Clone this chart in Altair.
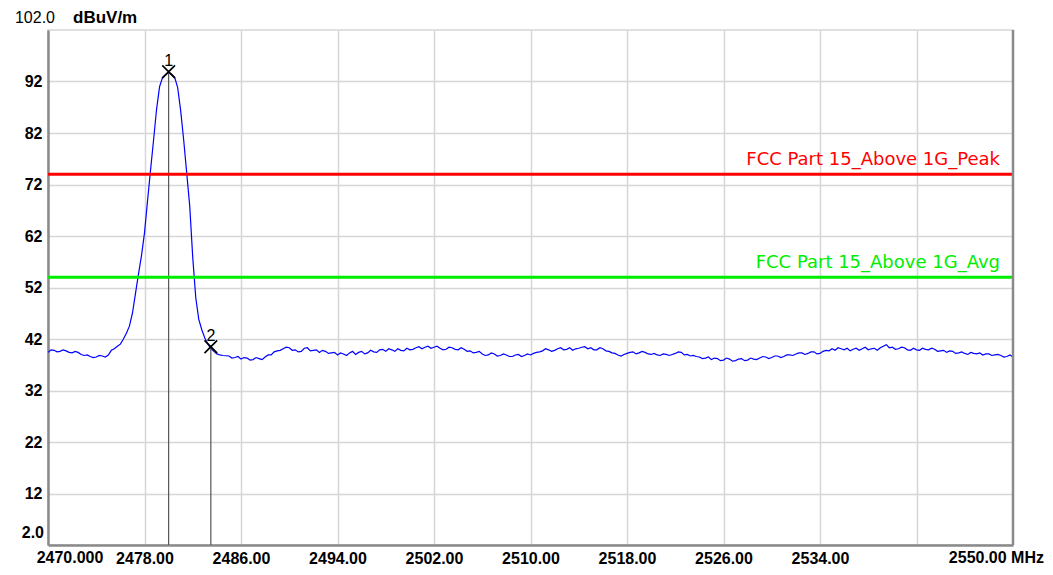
import altair as alt
import pandas as pd

# ---- sweep trace (MHz, dBuV/m) ----
freq_left = [2470.0, 2470.5, 2471.0, 2471.5, 2472.0, 2472.5, 2473.0, 2473.5, 2474.0, 2474.5, 2475.0]
level_left = [39.4, 39.8, 39.6, 39.7, 39.3, 39.4, 38.8, 38.6, 38.5, 38.7, 38.9]
freq_left_mid = [2470.25, 2470.75, 2471.25, 2471.75, 2472.25, 2472.75, 2473.25, 2473.75,
                 2474.25, 2474.75]
level_left_mid = [39.9, 39.5, 39.9, 39.4, 39.6, 39.0, 38.9, 38.4, 38.8, 38.5]

freq_peak = [2475.25, 2475.5, 2475.75,
             2476.0, 2476.25, 2476.5, 2476.75,
             2477.0, 2477.25, 2477.5, 2477.75,
             2478.0, 2478.25, 2478.5, 2478.75,
             2479.0, 2479.25, 2479.5, 2479.75,
             2480.0, 2480.25, 2480.5, 2480.75,
             2481.0, 2481.25, 2481.5, 2481.75,
             2482.0, 2482.25, 2482.5, 2482.75,
             2483.0, 2483.25, 2483.5, 2483.75,
             2484.0, 2484.25, 2484.5]
level_peak = [39.8, 40.1, 40.6,
              41.0, 42.0, 43.1, 44.5,
              47.0, 50.8, 54.6, 58.2,
              62.6, 68.8, 74.8, 80.6,
              86.6, 91.0, 92.8, 93.3,
              93.8, 93.4, 92.8, 90.8,
              86.3, 80.6, 74.2, 67.8,
              57.8, 50.0, 45.8, 43.8,
              42.2, 41.0, 40.2, 39.6,
              39.1, 38.9, 38.8]

freq_right = [
    2485.0, 2485.5, 2486.0, 2486.5, 2487.0, 2487.5, 2488.0, 2488.5, 2489.0, 2489.5,
    2490.0, 2490.5, 2491.0, 2491.5, 2492.0, 2492.5, 2493.0, 2493.5, 2494.0, 2494.5,
    2495.0, 2495.5, 2496.0, 2496.5, 2497.0, 2497.5, 2498.0, 2498.5, 2499.0, 2499.5,
    2500.0, 2500.5, 2501.0, 2501.5, 2502.0, 2502.5, 2503.0, 2503.5, 2504.0, 2504.5,
    2505.0, 2505.5, 2506.0, 2506.5, 2507.0, 2507.5, 2508.0, 2508.5, 2509.0, 2509.5,
    2510.0, 2510.5, 2511.0, 2511.5, 2512.0, 2512.5, 2513.0, 2513.5, 2514.0, 2514.5,
    2515.0, 2515.5, 2516.0, 2516.5, 2517.0, 2517.5, 2518.0, 2518.5, 2519.0, 2519.5,
    2520.0, 2520.5, 2521.0, 2521.5, 2522.0, 2522.5, 2523.0, 2523.5, 2524.0, 2524.5,
    2525.0, 2525.5, 2526.0, 2526.5, 2527.0, 2527.5, 2528.0, 2528.5, 2529.0, 2529.5,
    2530.0, 2530.5, 2531.0, 2531.5, 2532.0, 2532.5, 2533.0, 2533.5, 2534.0, 2534.5,
    2535.0, 2535.5, 2536.0, 2536.5, 2537.0, 2537.5, 2538.0, 2538.5, 2539.0, 2539.5,
    2540.0, 2540.5, 2541.0, 2541.5, 2542.0, 2542.5, 2543.0, 2543.5, 2544.0, 2544.5,
    2545.0, 2545.5, 2546.0, 2546.5, 2547.0, 2547.5, 2548.0, 2548.5, 2549.0, 2549.5,
    2550.0]
level_right = [
    38.7, 38.4, 38.1, 38.3, 38.0, 38.2, 38.5, 38.9, 39.7, 40.1,
    40.3, 39.9, 39.6, 40.3, 39.8, 39.4, 39.6, 39.3, 38.9, 39.1,
    39.3, 39.0, 39.6, 39.3, 39.5, 39.9, 39.6, 39.9, 40.1, 39.7,
    39.9, 40.3, 40.1, 40.6, 40.4, 40.2, 40.0, 40.3, 39.9, 40.0,
    39.7, 39.4, 39.1, 38.9, 39.1, 38.8, 38.9, 38.6, 39.0, 38.8,
    38.9, 39.4, 39.7, 39.9, 39.8, 40.3, 40.0, 39.8, 40.2, 40.5,
    40.3, 39.9, 40.1, 39.6, 39.2, 38.7, 39.2, 39.5, 39.3, 39.4,
    39.0, 38.9, 39.1, 38.8, 39.2, 39.4, 39.0, 38.8, 38.5, 38.3,
    38.0, 38.2, 37.9, 38.1, 37.8, 38.2, 37.9, 38.1, 38.3, 38.5,
    38.4, 38.7, 38.6, 38.9, 39.1, 39.3, 39.2, 39.5, 39.2, 39.8,
    40.1, 40.3, 39.9, 39.7, 40.2, 40.1, 39.9, 40.2, 40.3, 40.9,
    40.4, 40.1, 40.3, 39.8, 39.9, 40.2, 39.9, 40.0, 39.7, 39.4,
    39.6, 39.3, 39.2, 39.4, 39.1, 38.9, 39.1, 38.9, 38.8, 38.6,
    38.5]
freq_right_mid = [
    2485.25, 2485.75, 2486.25, 2486.75, 2487.25, 2487.75, 2488.25, 2488.75, 2489.25, 2489.75,
    2490.25, 2490.75, 2491.25, 2491.75, 2492.25, 2492.75, 2493.25, 2493.75, 2494.25, 2494.75,
    2495.25, 2495.75, 2496.25, 2496.75, 2497.25, 2497.75, 2498.25, 2498.75, 2499.25, 2499.75,
    2500.25, 2500.75, 2501.25, 2501.75, 2502.25, 2502.75, 2503.25, 2503.75, 2504.25, 2504.75,
    2505.25, 2505.75, 2506.25, 2506.75, 2507.25, 2507.75, 2508.25, 2508.75, 2509.25, 2509.75,
    2510.25, 2510.75, 2511.25, 2511.75, 2512.25, 2512.75, 2513.25, 2513.75, 2514.25, 2514.75,
    2515.25, 2515.75, 2516.25, 2516.75, 2517.25, 2517.75, 2518.25, 2518.75, 2519.25, 2519.75,
    2520.25, 2520.75, 2521.25, 2521.75, 2522.25, 2522.75, 2523.25, 2523.75, 2524.25, 2524.75,
    2525.25, 2525.75, 2526.25, 2526.75, 2527.25, 2527.75, 2528.25, 2528.75, 2529.25, 2529.75,
    2530.25, 2530.75, 2531.25, 2531.75, 2532.25, 2532.75, 2533.25, 2533.75, 2534.25, 2534.75,
    2535.25, 2535.75, 2536.25, 2536.75, 2537.25, 2537.75, 2538.25, 2538.75, 2539.25, 2539.75,
    2540.25, 2540.75, 2541.25, 2541.75, 2542.25, 2542.75, 2543.25, 2543.75, 2544.25, 2544.75,
    2545.25, 2545.75, 2546.25, 2546.75, 2547.25, 2547.75, 2548.25, 2548.75, 2549.25, 2549.75]
level_right_mid = [
    38.3, 38.6, 38.4, 37.9, 38.4, 38.0, 38.9, 39.5, 39.8, 40.4,
    39.8, 39.5, 40.2, 39.7, 39.9, 39.8, 39.2, 39.4, 39.3, 38.8,
    39.6, 39.4, 39.1, 39.8, 39.4, 40.0, 40.1, 39.6, 39.8, 40.2,
    40.0, 40.5, 40.4, 40.2, 40.6, 39.9, 40.4, 40.0, 40.3, 39.6,
    39.3, 39.6, 38.8, 39.3, 38.7, 39.1, 38.6, 38.9, 38.6, 39.1,
    39.2, 39.5, 40.1, 39.6, 40.1, 39.9, 40.3, 40.1, 40.4, 40.1,
    39.9, 40.3, 39.7, 39.3, 38.9, 39.0, 39.4, 39.1, 39.6, 39.1,
    39.2, 38.8, 39.0, 39.0, 39.5, 38.9, 38.7, 38.6, 38.2, 38.5,
    38.3, 37.8, 38.3, 37.7, 38.1, 37.8, 38.3, 38.0, 38.6, 38.2,
    38.7, 38.4, 38.9, 38.8, 39.3, 39.0, 39.5, 39.1, 39.6, 39.7,
    39.8, 40.1, 40.2, 40.0, 39.8, 40.4, 40.1, 39.8, 40.6, 40.3,
    40.0, 40.4, 39.9, 40.2, 39.8, 40.0, 40.2, 39.6, 39.8, 39.7,
    39.2, 39.5, 39.0, 39.2, 39.3, 39.1, 38.8, 39.0, 38.5, 38.9]

# ---- limit lines ----
limit_names = ["FCC Part 15_Above 1G_Peak", "FCC Part 15_Above 1G_Avg"]
limit_levels = [74, 54]
limit_colors = ["#ff0000", "#00ee00"]

# ---- markers ----
marker_ids = ["1", "2"]
marker_freq = [2480.0, 2483.5]
marker_level = [93.9, 40.5]

# ---- axis ticks / ranges ----
x_ticks = [2478, 2486, 2494, 2502, 2510, 2518, 2526, 2534, 2542]
y_ticks = [12, 22, 32, 42, 52, 62, 72, 82, 92]
x_min, x_max = 2470, 2550
y_min, y_max = 2, 102

FONT = "Liberation Sans"

trace = pd.DataFrame({
    "freq": freq_left + freq_left_mid + freq_peak + freq_right + freq_right_mid,
    "level": level_left + level_left_mid + level_peak + level_right + level_right_mid,
}).sort_values("freq")
limits = pd.DataFrame({"name": limit_names, "level": limit_levels, "color": limit_colors,
                       "xend": [x_max] * len(limit_names)})
markers = pd.DataFrame({"id": marker_ids, "freq": marker_freq, "level": marker_level,
                        "floor": [y_min] * len(marker_ids)})
border = pd.DataFrame({"x": [x_max], "y": [y_min], "y2": [y_max]})

xscale = alt.Scale(domain=[x_min, x_max], nice=False, zero=False)
yscale = alt.Scale(domain=[y_min, y_max], nice=False, zero=False)

x_axis = alt.Axis(values=x_ticks, title=None, grid=True, gridColor="#d6d6d6", gridWidth=1.5,
                  ticks=False, domainColor="#8a8a8a", domainWidth=2.5,
                  labelExpr="datum.value == 2542 ? '' : format(datum.value, '.2f')",
                  labelFont=FONT, labelFontSize=16, labelFontWeight="bold", labelColor="#000",
                  labelBaseline="alphabetic", labelPadding=18,
                  labelOverlap=False, labelBound=False, labelFlush=False)
y_axis = alt.Axis(values=y_ticks, title=None, grid=True, gridColor="#d6d6d6", gridWidth=1.5,
                  ticks=False, domainColor="#8a8a8a", domainWidth=2.5, format="d",
                  labelFont=FONT, labelFontSize=16, labelFontWeight="bold", labelColor="#000",
                  labelPadding=6, labelOverlap=False, labelBound=False, labelFlush=False)

line = alt.Chart(trace).mark_line(color="#0000ff", strokeWidth=1.2).encode(
    x=alt.X("freq:Q", scale=xscale, axis=x_axis),
    y=alt.Y("level:Q", scale=yscale, axis=y_axis),
)

marker_rules = alt.Chart(markers).mark_rule(color="#555555", strokeWidth=1.2).encode(
    x=alt.X("freq:Q"), y=alt.Y("floor:Q"), y2="level:Q")

limit_rules = alt.Chart(limits).mark_rule(strokeWidth=3).encode(
    y=alt.Y("level:Q"), color=alt.Color("color:N", scale=None))

limit_text = alt.Chart(limits).mark_text(align="right", baseline="alphabetic", dx=-13, dy=-9,
                                         font="DejaVu Sans", fontSize=18).encode(
    x=alt.X("xend:Q"), y=alt.Y("level:Q"), text="name:N",
    color=alt.Color("color:N", scale=None))

right_border = alt.Chart(border).mark_rule(color="#8a8a8a", strokeWidth=2.5).encode(
    x=alt.X("x:Q"), y=alt.Y("y:Q"), y2="y2:Q")

marker_pts = alt.Chart(markers).mark_point(shape="M-1,-1L1,1M-1,1L1,-1", size=160, color="#000",
                                           strokeWidth=1.7, filled=False, opacity=1).encode(
    x=alt.X("freq:Q"), y=alt.Y("level:Q"))

marker_lbl = alt.Chart(markers).mark_text(align="center", baseline="alphabetic", dy=-6,
                                          font=FONT, fontSize=16, color="#000").encode(
    x=alt.X("freq:Q"), y=alt.Y("level:Q"), text="id:N")

# extra axis texts, anchored to the data scales
ann_x_end = pd.DataFrame({"x": [x_min, x_max], "y": [y_min, y_min],
                          "t": ["2470.000", "2550.00 MHz"]})
ann_start = alt.Chart(ann_x_end.iloc[[0]]).mark_text(
    align="center", baseline="alphabetic", dx=22, dy=18, font=FONT, fontSize=16,
    fontWeight="bold", color="#000").encode(x=alt.X("x:Q"), y=alt.Y("y:Q"), text="t:N")
ann_end = alt.Chart(ann_x_end.iloc[[1]]).mark_text(
    align="right", baseline="alphabetic", dx=31, dy=18, font=FONT, fontSize=16,
    fontWeight="bold", color="#000").encode(x=alt.X("x:Q"), y=alt.Y("y:Q"), text="t:N")

ann_y = pd.DataFrame({"x": [x_min, x_min, x_min], "y": [y_min, y_max, y_max],
                      "t": ["2.0", "102.0", "dBuV/m"]})
bottom_y = alt.Chart(ann_y.iloc[[0]]).mark_text(
    align="right", baseline="alphabetic", dx=-4, dy=-7, font=FONT, fontSize=16,
    fontWeight="bold", color="#000").encode(x=alt.X("x:Q"), y=alt.Y("y:Q"), text="t:N")
top_y = alt.Chart(ann_y.iloc[[1]]).mark_text(
    align="right", baseline="alphabetic", dx=7, dy=-7, font=FONT, fontSize=16,
    color="#000").encode(x=alt.X("x:Q"), y=alt.Y("y:Q"), text="t:N")
unit = alt.Chart(ann_y.iloc[[2]]).mark_text(
    align="left", baseline="alphabetic", dx=25, dy=-7, font=FONT, fontSize=17,
    fontWeight="bold", color="#000").encode(x=alt.X("x:Q"), y=alt.Y("y:Q"), text="t:N")

chart = alt.layer(
    line, marker_rules, limit_rules, right_border, marker_pts, marker_lbl, limit_text,
    ann_start, ann_end, bottom_y, top_y, unit
).properties(
    width=965, height=515,
    autosize=alt.AutoSizeParams(type="none"),
    padding={"left": 40, "top": 22, "right": 32, "bottom": 22},
    background="#ffffff",
).configure_view(stroke="#d6d6d6", strokeWidth=1.5)

chart.save("out.html", embed_options={"renderer": "svg", "actions": False})
